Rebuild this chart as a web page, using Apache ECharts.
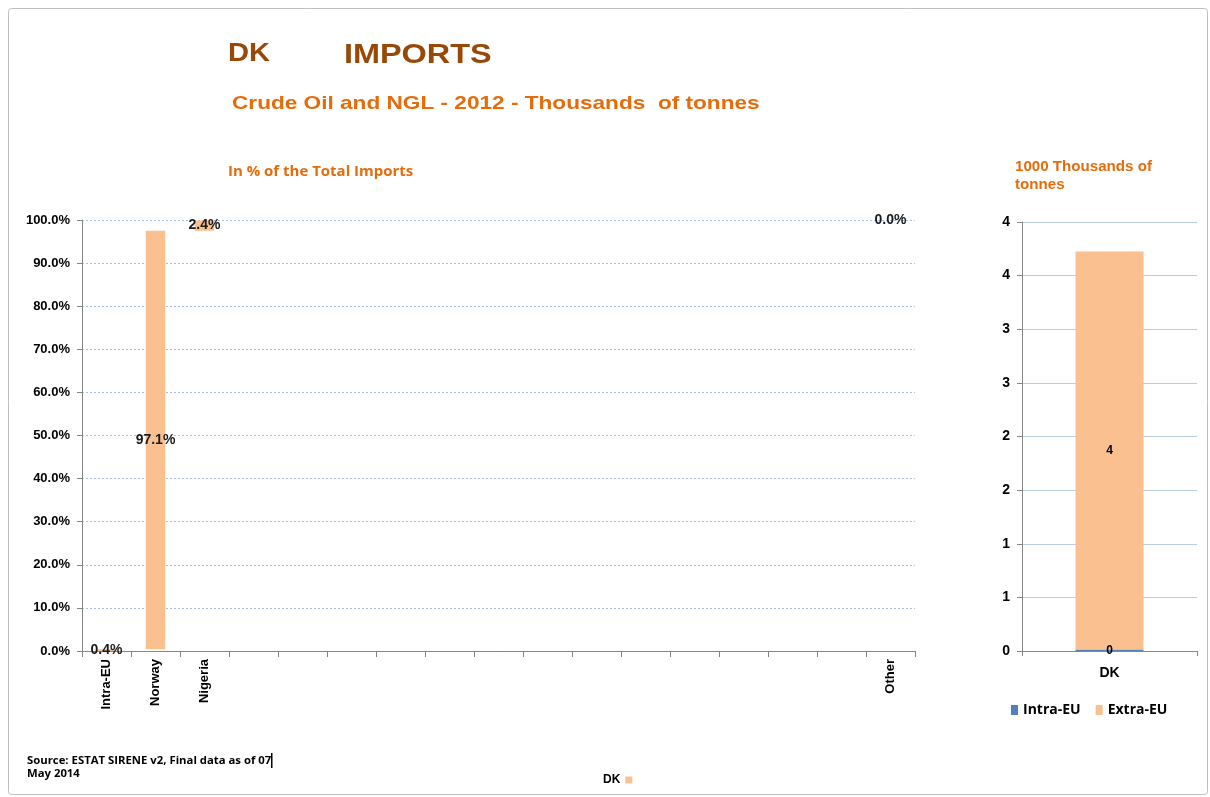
<!DOCTYPE html>
<html><head><meta charset="utf-8">
<script src="https://cdn.jsdelivr.net/npm/echarts@6/dist/echarts.min.js"></script>
<style>html,body{margin:0;padding:0;background:#fff}#c{width:1210px;height:797px}</style>
</head><body><div id="c"></div>
<script>
// Left chart: share of total imports (%), 17 category slots
const shareCategories = ['Intra-EU','Norway','Nigeria','','','','','','','','','','','','','','Other'];
const shareValues = [0.4, 97.1, 2.4, null,null,null,null,null,null,null,null,null,null,null,null,null, 0.0];
const shareTicks = [0,10,20,30,40,50,60,70,80,90,100];
// Right chart: thousand thousands of tonnes
const volCategories = ['DK'];
const intraEU = [0.015];
const extraEU = [3.71];

// waterfall bases from cumulative shares
const shareBase = [];
let acc = 0;
shareValues.forEach(v => { if (v === null) { shareBase.push(null); } else { shareBase.push(acc); acc += v; } });

const orange = '#FAC090';
const blue = '#4F81BD';
const F = 'Liberation Sans, Arial, sans-serif';

function txt(x, y, text, font, fill, sx, extra) {
  return { type: 'text', x: x, y: y, scaleX: sx || 1, originX: 0, originY: 0,
    style: Object.assign({ text: text, font: font, fill: fill, verticalAlign: 'middle', align: 'left' }, extra || {}) };
}

const chart = echarts.init(document.getElementById('c'));
chart.setOption({
  animation: false,
  backgroundColor: '#fff',
  graphic: [
    { type: 'rect', shape: { x: 8.5, y: 8.5, width: 1199, height: 786, r: 3 }, style: { fill: 'none', stroke: '#BFBFBF', lineWidth: 1 } },
    txt(228, 54, 'DK', 'bold 26px ' + F, '#984807', 1.12),
    txt(344, 56, 'IMPORTS', 'bold 27px ' + F, '#984807', 1.2),
    txt(232, 104, 'Crude Oil and NGL - 2012 - Thousands  of tonnes', 'bold 19px ' + F, '#E46C0A', 1.19),
    txt(228, 172, 'In % of the Total Imports', 'bold 14px "Open Sans", ' + F, '#E46C0A', 1.07),
    txt(1015, 176, '1000 Thousands of\ntonnes', 'bold 14px ' + F, '#E46C0A', 1.08, { lineHeight: 18 }),
    txt(27, 767, 'Source: ESTAT SIRENE v2, Final data as of 07\nMay 2014', 'bold 11px "Open Sans", ' + F, '#000', 1.03, { lineHeight: 13 }),
    { type: 'rect', shape: { x: 271, y: 753, width: 1.5, height: 15 }, style: { fill: '#000' } }
  ],
  legend: [
    { data: [{ name: 'DK' }], left: 598, top: 769, itemWidth: 7, itemHeight: 7, align: 'right', itemGap: 6,
      icon: 'rect', textStyle: { fontFamily: F, fontWeight: 'bold', fontSize: 12, color: '#000' } },
    { data: ['Intra-EU', 'Extra-EU'], left: 1006, top: 698, itemWidth: 7, itemHeight: 10, itemGap: 15,
      icon: 'rect', textStyle: { fontFamily: '"Open Sans", ' + F, fontWeight: 'bold', fontSize: 14, color: '#000' } }
  ],
  grid: [
    { left: 82, top: 220, width: 833, height: 431 },
    { left: 1022, top: 222, width: 175, height: 429 }
  ],
  xAxis: [
    { gridIndex: 0, type: 'category', data: shareCategories,
      axisLine: { lineStyle: { color: '#868686' } },
      axisTick: { show: true, alignWithLabel: false, length: 6, lineStyle: { color: '#868686' }, interval: 0 },
      axisLabel: { rotate: 90, interval: 0, fontFamily: F, fontWeight: 'bold', fontSize: 13, color: '#000', margin: 8 } },
    { gridIndex: 1, type: 'category', data: volCategories,
      axisLine: { lineStyle: { color: '#868686' } },
      axisTick: { show: true, length: 5, lineStyle: { color: '#868686' } },
      axisLabel: { fontFamily: F, fontWeight: 'bold', fontSize: 14, color: '#000', margin: 15 } }
  ],
  yAxis: [
    { gridIndex: 0, type: 'value', min: shareTicks[0], max: shareTicks[shareTicks.length - 1], interval: 10,
      axisLine: { show: true, lineStyle: { color: '#868686' } },
      axisTick: { show: true, length: 5, lineStyle: { color: '#868686' } },
      splitLine: { lineStyle: { color: '#A9BEE0', type: [2, 2] } },
      axisLabel: { formatter: v => v.toFixed(1) + '%', fontFamily: F, fontWeight: 'bold', fontSize: 13, color: '#000', margin: 12 } },
    { gridIndex: 1, type: 'value', min: 0, max: 4, interval: 0.5,
      axisLine: { show: true, lineStyle: { color: '#868686' } },
      axisTick: { show: true, length: 5, lineStyle: { color: '#868686' } },
      splitLine: { lineStyle: { color: '#B9CBE6', width: 1 } },
      axisLabel: { formatter: v => String(Math.round(v)), fontFamily: F, fontWeight: 'bold', fontSize: 14, color: '#000', margin: 12 } }
  ],
  series: [
    { name: 'base', type: 'bar', xAxisIndex: 0, yAxisIndex: 0, stack: 'w', data: shareBase, barWidth: '40%',
      itemStyle: { color: 'rgba(0,0,0,0)' }, silent: true },
    { name: 'DK', type: 'bar', xAxisIndex: 0, yAxisIndex: 0, stack: 'w', data: shareValues, barWidth: '40%',
      itemStyle: { color: orange },
      label: { show: true, position: 'inside', formatter: p => p.value.toFixed(1) + '%', fontFamily: F, fontWeight: 'bold', fontSize: 14, color: '#1a1a1a' } },
    { name: 'Intra-EU', type: 'bar', xAxisIndex: 1, yAxisIndex: 1, stack: 'v', data: intraEU, barWidth: 68,
      itemStyle: { color: blue },
      label: { show: true, position: 'inside', formatter: p => String(Math.round(p.value)), fontFamily: F, fontWeight: 'bold', fontSize: 12, color: '#000' } },
    { name: 'Extra-EU', type: 'bar', xAxisIndex: 1, yAxisIndex: 1, stack: 'v', data: extraEU, barWidth: 68,
      itemStyle: { color: orange },
      label: { show: true, position: 'inside', formatter: p => String(Math.round(p.value)), fontFamily: F, fontWeight: 'bold', fontSize: 12, color: '#000' } }
  ]
});
</script></body></html>
